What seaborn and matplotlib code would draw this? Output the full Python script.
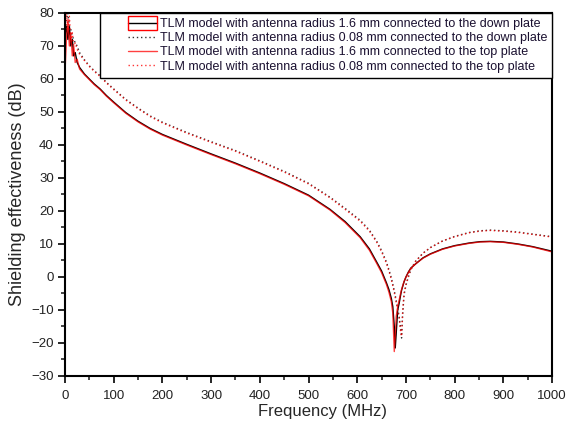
import numpy as np
import pandas as pd
import seaborn as sns
import matplotlib
matplotlib.use("Agg")
import matplotlib.pyplot as plt
from matplotlib.legend_handler import HandlerLine2D
from matplotlib.patches import Rectangle

# Frequency grid (MHz), denser around the resonance notch
freq = [0, 3, 6, 9, 12, 15, 18, 21, 25, 30,
        40, 50, 60, 72, 85, 100, 125, 150, 175, 200,
        250, 300, 350, 400, 450, 500, 544, 575, 606, 625,
        640, 650, 660, 665, 670, 673, 676, 678, 680, 683,
        686, 689, 691, 693, 696, 700, 705, 710, 720, 735,
        750, 775, 800, 830, 852, 873, 900, 930, 960, 1000]

# Shielding effectiveness (dB)
se_r16_down = [73, 76, 72, 76, 70, 72, 67, 68, 65, 63.5,
               61.5, 60, 58.5, 57, 55, 53, 49.8, 47.2, 45, 43.2,
               40.2, 37.3, 34.5, 31.5, 28.3, 24.8, 20.5, 16.8, 12.2, 8.5,
               4.5, 1.8, -1.8, -3.8, -6.5, -9, -15, -21.5, -17, -10,
               -8, -5.5, -4, -3, -1.5, 0, 1.5, 2.7, 4, 5.8,
               7, 8.5, 9.5, 10.3, 10.7, 10.8, 10.6, 10, 9.2, 7.8]

se_r008_down = [75, 78, 80, 76, 75, 73, 72, 71, 70, 68,
                65.8, 64, 62.5, 61, 59, 57, 53.8, 51.2, 48.8, 46.9,
                43.8, 41, 38.3, 35.2, 32, 28.4, 24.2, 20.8, 17.2, 14.2,
                10.8, 8, 4.5, 2.2, -0.3, -2.2, -4.2, -5.6, -7.2, -9.5,
                -12, -15.5, -18.5, -12, -5.5, -2.5, 0, 2.2, 4.8, 7.2,
                8.9, 10.9, 12.3, 13.5, 14, 14.2, 14, 13.6, 13, 12.2]

se_r16_top = [62, 72, 78, 70, 74, 67, 70, 65, 66, 63,
              61.3, 59.8, 58.3, 56.8, 54.8, 52.8, 49.6, 47, 44.8, 43,
              40, 37.1, 34.3, 31.3, 28.1, 24.6, 20.3, 16.5, 11.9, 8.1,
              4.1, 1.3, -2.3, -4.6, -7.5, -11, -22.6, -18, -12, -9,
              -7, -5, -3.8, -2.8, -1.4, 0, 1.4, 2.6, 4, 5.7,
              6.9, 8.4, 9.4, 10.2, 10.6, 10.7, 10.5, 9.9, 9.1, 7.6]

se_r008_top = [70, 80, 75, 79, 72, 74, 70, 71, 69, 67.5,
               65.6, 63.8, 62.3, 60.8, 58.8, 56.8, 53.6, 51, 48.6, 46.7,
               43.6, 40.8, 38.1, 35, 31.8, 28.2, 24, 20.5, 16.9, 13.9,
               10.5, 7.6, 4.1, 1.8, -0.8, -2.7, -4.7, -6.1, -7.7, -10,
               -12.5, -16.5, -18, -11, -5, -2.2, 0.2, 2.3, 4.8, 7.2,
               8.9, 10.9, 12.2, 13.4, 13.9, 14.1, 13.9, 13.5, 12.9, 12.1]

labels = ["TLM model with antenna radius 1.6 mm connected to the down plate",
          "TLM model with antenna radius 0.08 mm connected to the down plate",
          "TLM model with antenna radius 1.6 mm connected to the top plate",
          "TLM model with antenna radius 0.08 mm connected to the top plate"]

sns.set_style("ticks")
plt.rcParams["font.family"] = ["Liberation Sans", "DejaVu Sans"]

fig = plt.figure(figsize=(5.68, 4.26), dpi=100)
ax = fig.add_axes([0.1144, 0.1174, 0.8576, 0.8521])

dotted = (0, (1, 2))
series = [
    (se_r16_down, labels[0], "black", "-", 1.0, 1.0),
    (se_r008_down, labels[1], "#333333", dotted, 1.0, 1.0),
    (se_r16_top, labels[2], "#ff0000", "-", 1.0, 0.75),
    (se_r008_top, labels[3], "#ff0000", dotted, 1.0, 0.8),
]
for vals, lab, col, ls, lw, alpha in series:
    df = pd.DataFrame({"freq": freq, "se": vals})
    sns.lineplot(data=df, x="freq", y="se", ax=ax, color=col, lw=lw,
                 linestyle=ls, alpha=alpha, label=lab, estimator=None,
                 sort=False)

ax.set_xlim(0, 1000)
ax.set_ylim(-30, 80)
ax.set_xticks(np.arange(0, 1001, 100))
ax.set_xticks(np.arange(0, 1001, 50), minor=True)
ax.set_yticks(np.arange(-30, 81, 10))
ax.set_yticks(np.arange(-30, 81, 5), minor=True)
ax.tick_params(which="major", direction="out", length=5, width=1.4,
               labelsize=9.5, labelcolor="#222222", pad=3)
ax.tick_params(axis="x", which="major", pad=5)
ax.tick_params(which="minor", direction="out", length=3, width=1.2)
for s in ax.spines.values():
    s.set_linewidth(1.5)
    s.set_color("black")

ax.set_xlabel("Frequency (MHz)", fontsize=12, labelpad=5)
ax.xaxis.set_label_coords(0.528, -0.078)
ax.set_ylabel("Shielding effectiveness (dB)", fontsize=13, labelpad=4)

xpad = 1.9
handler = HandlerLine2D(xpad=xpad)
leg = ax.legend(loc="upper right", bbox_to_anchor=(1.0, 1.0),
                borderaxespad=0, fontsize=9, frameon=True, fancybox=False,
                framealpha=1, edgecolor="black", handlelength=2.25 + xpad,
                handletextpad=0.25, labelspacing=0.18, borderpad=0.4,
                handler_map={plt.Line2D: handler})
leg.get_frame().set_linewidth(1.0)
for t in leg.get_texts():
    t.set_color("#1a1030")

# Red selection box around the first legend key
fig.canvas.draw()
renderer = fig.canvas.get_renderer()
bb = leg.get_lines()[0].get_window_extent(renderer)
cy = 0.5 * (bb.y0 + bb.y1)
fig.patches.append(Rectangle((bb.x0, cy - 7), bb.width, 14, transform=None,
                             fill=False, edgecolor="red", lw=1.0))

fig.savefig("out.png", dpi=100)
